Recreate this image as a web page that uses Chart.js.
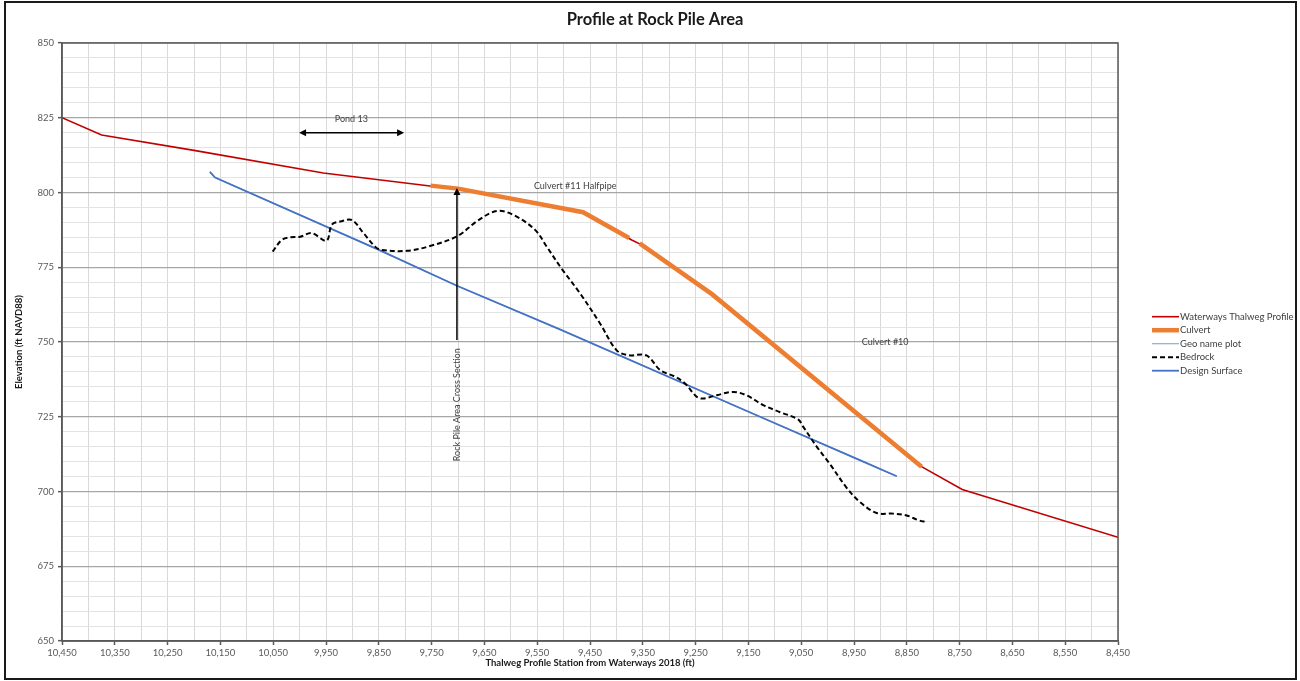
<!DOCTYPE html>
<html>
<head>
<meta charset="utf-8">
<script src="https://cdn.jsdelivr.net/npm/chart.js@4/dist/chart.umd.min.js"></script>
<style>
  html, body { margin: 0; padding: 0; background: #fff; }
  #wrap { width: 1300px; height: 681px; position: relative; }
</style>
</head>
<body>
<div id="wrap"><canvas id="c" width="1300" height="681"></canvas></div>
<script>
// ---- Data ----
const thalwegX = [10450, 10375, 10200, 9955, 9753, 9700, 9463, 9371, 9352, 9219, 8822, 8745, 8450];
const thalwegY = [825.0, 819.2, 814.1, 806.5, 802.2, 801.3, 793.4, 784.1, 782.5, 766.0, 708.3, 700.7, 684.7];

const culvertX = [9752, 9700, 9463, 9376, 9366, 9356, 9219, 8822];
const culvertY = [802.3, 801.3, 793.4, 784.8, null, 783.0, 766.0, 708.3];

const geoX = [10170, 10160, 9851, 9702, 9507, 9128, 8939, 8869];
const geoY = [806.9, 805.0, 780.9, 768.8, 754.2, 725.0, 710.5, 705.1];

const designX = [10170, 10160, 9851, 9702, 9507, 9128, 8939, 8869];
const designY = [806.9, 805.0, 780.9, 768.8, 754.2, 725.0, 710.5, 705.1];

const bedrockX = [10051, 10034, 10018, 9999, 9977, 9949, 9939, 9923, 9901, 9879, 9857, 9845, 9797, 9753, 9700, 9665, 9627, 9595, 9554, 9532, 9504, 9469, 9431, 9400, 9378, 9343, 9317, 9289, 9270, 9248, 9236, 9210, 9179, 9154, 9122, 9091, 9056, 9046, 9021, 8996, 8965, 8939, 8907, 8876, 8850, 8828, 8813];
const bedrockY = [780.2, 784.1, 785.0, 785.2, 786.4, 783.9, 789.2, 790.3, 790.8, 786.4, 781.9, 780.8, 780.5, 782.1, 785.5, 790.3, 793.8, 792.5, 787.5, 781.9, 774.6, 766.3, 756.2, 747.3, 745.6, 745.5, 740.6, 738.4, 736.1, 731.7, 731.1, 732.2, 733.3, 732.2, 728.9, 726.6, 724.1, 721.6, 715.1, 709.3, 701.5, 696.5, 692.8, 692.6, 692.0, 690.4, 689.8];

// Axis range / ticks
const xMin = 8450, xMax = 10450, xGridStep = 50, xLabelStep = 100;
const yMin = 650, yMax = 850, yGridStep = 5, yLabelStep = 25;

const chartTitle = 'Profile at Rock Pile Area';

// Annotations (data coordinates)
const pondArrow = { x1: 10001, x2: 9802, y: 820.0, label: 'Pond 13', labelX: 9902, labelY: 824.4 };
const rockArrow = { x: 9702, y1: 750.7, y2: 801.5, label: 'Rock Pile Area Cross Section', labelY: 729.0 };
const textNotes = [
  { text: 'Culvert #11 Halfpipe', x: 9478, y: 802.2 },
  { text: 'Culvert #10', x: 8891, y: 750.0 }
];

const toPts = (xs, ys) => xs.map((x, i) => ({ x: x, y: ys[i] }));

const FONT = 'Lato, "Open Sans", "DejaVu Sans", sans-serif';

const annotPlugin = {
  id: 'annot',
  afterDatasetsDraw(chart) {
    const { ctx, scales: { x, y } } = chart;
    ctx.save();
    ctx.strokeStyle = '#000';
    ctx.fillStyle = '#000';
    ctx.lineWidth = 1.5;
    const px1 = x.getPixelForValue(pondArrow.x1), px2 = x.getPixelForValue(pondArrow.x2);
    const py = y.getPixelForValue(pondArrow.y);
    ctx.beginPath(); ctx.moveTo(px1 + 4, py); ctx.lineTo(px2 - 4, py); ctx.stroke();
    const head = (tx, ty, dx, dy) => {
      const L = 7, W = 3.5;
      const nx = -dy, ny = dx;
      ctx.beginPath();
      ctx.moveTo(tx, ty);
      ctx.lineTo(tx - dx * L + nx * W, ty - dy * L + ny * W);
      ctx.lineTo(tx - dx * L - nx * W, ty - dy * L - ny * W);
      ctx.closePath(); ctx.fill();
    };
    head(px1, py, -1, 0);
    head(px2, py, 1, 0);
    const rx = x.getPixelForValue(rockArrow.x);
    const ry1 = y.getPixelForValue(rockArrow.y1), ry2 = y.getPixelForValue(rockArrow.y2);
    ctx.beginPath(); ctx.moveTo(rx, ry1); ctx.lineTo(rx, ry2 + 4); ctx.stroke();
    head(rx, ry2, 0, -1);

    ctx.fillStyle = '#404040';
    ctx.font = '9px ' + FONT;
    ctx.textAlign = 'center';
    ctx.textBaseline = 'middle';
    ctx.fillText(pondArrow.label, x.getPixelForValue(pondArrow.labelX), y.getPixelForValue(pondArrow.labelY));
    textNotes.forEach(n => ctx.fillText(n.text, x.getPixelForValue(n.x), y.getPixelForValue(n.y)));
    ctx.save();
    ctx.translate(rx, y.getPixelForValue(rockArrow.labelY));
    ctx.rotate(-Math.PI / 2);
    ctx.fillText(rockArrow.label, 0, 0);
    ctx.restore();
    ctx.restore();
  },
  afterDraw(chart) {
    const { ctx, chartArea: a } = chart;
    ctx.save();
    // plot border
    ctx.strokeStyle = '#595959';
    ctx.lineWidth = 1.5;
    ctx.strokeRect(a.left, a.top, a.right - a.left, a.bottom - a.top);
    // title, centred on the whole picture
    ctx.fillStyle = '#1a1a1a';
    ctx.font = 'bold 16.5px ' + FONT;
    ctx.textAlign = 'center';
    ctx.textBaseline = 'middle';
    ctx.fillText(chartTitle, 655, 20);
    // custom legend
    const lx = 1152, ly = 316.7, step = 13.5;
    ctx.font = '9.5px ' + FONT;
    ctx.textBaseline = 'middle';
    ctx.textAlign = 'left';
    chart.data.datasets.forEach((ds, i) => {
      const yy = ly + i * step;
      ctx.beginPath();
      ctx.strokeStyle = ds.borderColor;
      ctx.lineWidth = ds.borderWidth;
      ctx.setLineDash(ds.borderDash || []);
      ctx.moveTo(lx, yy); ctx.lineTo(lx + 27, yy); ctx.stroke();
      ctx.setLineDash([]);
      ctx.fillStyle = '#404040';
      ctx.fillText(ds.label, lx + 28, yy);
    });
    // outer frame
    ctx.strokeStyle = '#1a1a1a';
    ctx.lineWidth = 2;
    ctx.strokeRect(5, 2, 1291, 677);
    ctx.restore();
  }
};

new Chart(document.getElementById('c'), {
  type: 'line',
  data: {
    datasets: [
      { label: 'Waterways Thalweg Profile', data: toPts(thalwegX, thalwegY), borderColor: '#c00000', borderWidth: 1.6, pointRadius: 0, tension: 0, order: 5 },
      { label: 'Culvert', data: toPts(culvertX, culvertY), borderColor: '#ed7d31', borderWidth: 4.5, pointRadius: 0, tension: 0, spanGaps: false, order: 1 },
      { label: 'Geo name plot', data: toPts(geoX, geoY), borderColor: '#8faadc', borderWidth: 1.2, pointRadius: 0, tension: 0, order: 4 },
      { label: 'Bedrock', data: toPts(bedrockX, bedrockY), borderColor: '#000000', borderWidth: 2, borderDash: [5, 3], pointRadius: 0, tension: 0.35, order: 2 },
      { label: 'Design Surface', data: toPts(designX, designY), borderColor: '#4472c4', borderWidth: 1.8, pointRadius: 0, tension: 0, order: 3 }
    ]
  },
  options: {
    responsive: false,
    animation: false,
    layout: { padding: { left: 8, right: 182, top: 43, bottom: 8 } },
    plugins: {
      legend: { display: false },
      tooltip: { enabled: false },
      title: { display: false }
    },
    scales: {
      x: {
        type: 'linear',
        reverse: true,
        min: xMin, max: xMax,
        afterFit(s) { s.height = 32; },
        ticks: {
          stepSize: xGridStep,
          autoSkip: false,
          maxRotation: 0,
          padding: 2,
          color: '#595959',
          font: { family: FONT, size: 9.5 },
          callback: (v) => ((xMax - v) % xLabelStep === 0 ? v.toLocaleString('en-US') : '')
        },
        grid: {
          color: '#d9d9d9',
          lineWidth: 1,
          tickLength: 4,
          tickColor: (c) => (c.tick && (xMax - c.tick.value) % xLabelStep === 0 ? '#595959' : 'rgba(0,0,0,0)'),
          tickWidth: 1.5
        },
        border: { color: '#595959', width: 1.5 },
        title: {
          display: true,
          text: 'Thalweg Profile Station from Waterways 2018 (ft)',
          color: '#1a1a1a',
          font: { family: FONT, size: 9.5, weight: 'bold' },
          padding: { top: 0, bottom: 4 }
        }
      },
      y: {
        type: 'linear',
        min: yMin, max: yMax,
        afterFit(s) { s.width = 54; },
        ticks: {
          stepSize: yGridStep,
          autoSkip: false,
          padding: 4,
          color: '#595959',
          font: { family: FONT, size: 9.5 },
          callback: (v) => (v % yLabelStep === 0 ? String(v) : '')
        },
        grid: {
          color: (c) => (c.tick && c.tick.value % yLabelStep === 0 ? '#a6a6a6' : '#e3e3e3'),
          lineWidth: (c) => (c.tick && c.tick.value % yLabelStep === 0 ? 1.3 : 1),
          tickLength: 4,
          tickColor: (c) => (c.tick && c.tick.value % yLabelStep === 0 ? '#595959' : 'rgba(0,0,0,0)'),
          tickWidth: 1.5
        },
        border: { color: '#595959', width: 1.5 },
        title: {
          display: true,
          text: 'Elevation (ft NAVD88)',
          color: '#1a1a1a',
          font: { family: FONT, size: 9.5, weight: 'bold' },
          padding: { top: 5, bottom: 0 }
        }
      }
    }
  },
  plugins: [annotPlugin]
});
</script>
</body>
</html>
